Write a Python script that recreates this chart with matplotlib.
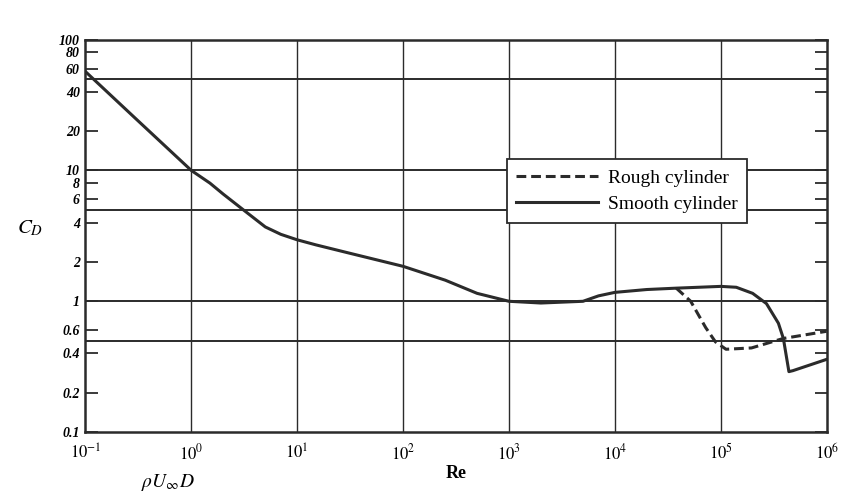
import matplotlib.pyplot as plt
import numpy as np

# values (Re, C_D)
re_smooth = [0.1, 0.3, 1.0, 1.5, 2.0, 3.1, 5.0, 7.0, 10.0, 15.0, 30.0, 100.0, 250.0,
             500.0, 1000.0, 2000.0, 5000.0, 7000.0, 1.0e4, 2.0e4, 3.8e4, 1.0e5,
             1.4e5, 2.0e5, 2.7e5, 3.5e5, 3.9e5, 4.4e5, 4.8e5, 1.0e6]
cd_smooth = [57, 24.8, 10, 8.0, 6.6, 5.0, 3.7, 3.25, 2.95, 2.7, 2.35, 1.85, 1.45,
             1.15, 1.0, 0.97, 1.0, 1.1, 1.17, 1.23, 1.26, 1.3,
             1.28, 1.15, 0.96, 0.68, 0.52, 0.29, 0.295, 0.36]

re_rough = [3.8e4, 5.2e4, 7.2e4, 8.9e4, 1.12e5, 1.95e5, 3.9e5, 1.0e6]
cd_rough = [1.26, 1.0, 0.63, 0.49, 0.43, 0.44, 0.52, 0.59]

y_ticks = [100, 80, 60, 40, 20, 10, 8, 6, 4, 2, 1, 0.6, 0.4, 0.2, 0.1]
y_labels = ['100', '80', '60', '40', '20', '10', '8', '6', '4', '2', '1',
            '0.6', '0.4', '0.2', '0.1']
h_grid = [50, 10, 5, 1, 0.5]
x_ticks = [1e-1, 1e0, 1e1, 1e2, 1e3, 1e4, 1e5, 1e6]
x_labels = ['$10^{-1}$', '$10^{0}$', '$10^{1}$', '$10^{2}$', '$10^{3}$',
            '$10^{4}$', '$10^{5}$', '$10^{6}$']

plt.rcParams['font.family'] = ['Liberation Serif', 'DejaVu Serif']
plt.rcParams['mathtext.fontset'] = 'stix'

fig = plt.figure(figsize=(8.54, 4.95), dpi=100)
ax = fig.add_axes([0.10, 0.127, 0.868, 0.793])

ink = '#2b2b2b'
for v in h_grid:
    ax.axhline(v, color=ink, lw=1.4, zorder=1)
for v in x_ticks[1:-1]:
    ax.axvline(v, color=ink, lw=1.0, zorder=1)

ax.plot(re_rough, cd_rough, color=ink, lw=2.2, ls=(0, (3.2, 1.6)),
        label='Rough cylinder', zorder=3)
ax.plot(re_smooth, cd_smooth, color=ink, lw=2.2, label='Smooth cylinder', zorder=3)

ax.set_xscale('log')
ax.set_yscale('log')
ax.set_xlim(0.1, 1e6)
ax.set_ylim(0.1, 100)

ax.set_yticks(y_ticks)
ax.set_yticklabels(y_labels, fontsize=10, fontweight='bold', style='italic')
ax.set_xticks(x_ticks)
ax.set_xticklabels(x_labels, fontsize=12)
ax.minorticks_off()
ax.tick_params(axis='y', direction='in', length=9, width=1.3, color=ink,
               right=True, pad=4)
ax.tick_params(axis='x', length=0, pad=8)

for s in ax.spines.values():
    s.set_linewidth(1.8)
    s.set_color(ink)

ax.set_xlabel('Re', fontsize=13, fontweight='bold', labelpad=1)
ax.set_ylabel('$C_D$', fontsize=15, rotation=0, va='center')
ax.yaxis.set_label_coords(-0.075, 0.52)

leg = ax.legend(loc='upper left', bbox_to_anchor=(0.555, 0.72), fontsize=14,
                handlelength=4.2, handletextpad=0.5, frameon=True, fancybox=False,
                framealpha=1, borderpad=0.5, labelspacing=0.45)
leg.get_frame().set_edgecolor(ink)
leg.get_frame().set_linewidth(1.3)

fig.text(0.165, 0.005, r'$\rho U_\infty D$', fontsize=14, va='bottom')

fig.savefig('out.png', dpi=100)
